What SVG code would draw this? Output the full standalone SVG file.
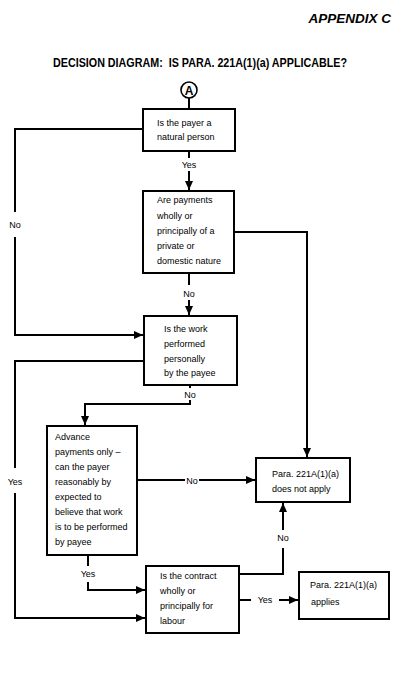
<svg xmlns="http://www.w3.org/2000/svg" width="400" height="700" viewBox="0 0 400 700">
<style>
.box{fill:#fff;stroke:#000;stroke-width:2}
.t{font-family:"Liberation Sans",Arial,sans-serif;font-size:9px;fill:#000}
.lbl{font-family:"Liberation Sans",Arial,sans-serif;font-size:9px;fill:#000;text-anchor:middle}
.c{fill:none;stroke:#000;stroke-width:2}
</style>
<defs>
<marker id="ah" markerUnits="userSpaceOnUse" markerWidth="10" markerHeight="10" refX="9" refY="4" orient="auto">
<path d="M0,0 L9,4 L0,8 Z" fill="#000"/>
</marker>
</defs>
<rect width="400" height="700" fill="#fff"/>
<text x="391" y="23" text-anchor="end" font-family="Liberation Sans,Arial,sans-serif" font-size="13.5" font-weight="bold" font-style="italic">APPENDIX C</text>
<text x="53" y="67" font-family="Liberation Sans,Arial,sans-serif" font-size="12.5" font-weight="bold" textLength="294" lengthAdjust="spacingAndGlyphs" xml:space="preserve">DECISION DIAGRAM:  IS PARA. 221A(1)(a) APPLICABLE?</text>
<g id="connectorA">
<circle cx="189" cy="90" r="8" fill="#fff" stroke="#000" stroke-width="1.6"/>
<text x="189" y="94.5" text-anchor="middle" font-family="Liberation Sans,Arial,sans-serif" font-size="12" font-weight="bold">A</text>
</g>
<g id="connectors">
<path class="c" d="M189,98 V109"/>
<path class="c" d="M189,151 V158"/>
<path class="c" d="M189,171 V190" marker-end="url(#ah)"/>
<text class="lbl" x="189" y="168">Yes</text>
<path class="c" d="M143,129 H15 V212"/>
<path class="c" d="M15,237 V335 H143" marker-end="url(#ah)"/>
<text class="lbl" x="15" y="228">No</text>
<path class="c" d="M234,232 H307 V457" marker-end="url(#ah)"/>
<path class="c" d="M189,273 V285"/>
<path class="c" d="M189,300 V315" marker-end="url(#ah)"/>
<text class="lbl" x="189" y="297">No</text>
<path class="c" d="M144,361 H15 V468"/>
<path class="c" d="M15,493 V618 H145" marker-end="url(#ah)"/>
<text class="lbl" x="15" y="485">Yes</text>
<path class="c" d="M190,385 V388"/>
<path class="c" d="M190,400 V404 H85 V425" marker-end="url(#ah)"/>
<text class="lbl" x="190" y="398">No</text>
<path class="c" d="M137,480 H185"/>
<path class="c" d="M199,480 H255" marker-end="url(#ah)"/>
<text class="lbl" x="192" y="484">No</text>
<path class="c" d="M88,555 V566"/>
<path class="c" d="M88,582 V590 H145" marker-end="url(#ah)"/>
<text class="lbl" x="88" y="577">Yes</text>
<path class="c" d="M239,574 H283 V548"/>
<path class="c" d="M283,530 V503" marker-end="url(#ah)"/>
<text class="lbl" x="283" y="541">No</text>
<path class="c" d="M239,600 H251"/>
<path class="c" d="M279,600 H298" marker-end="url(#ah)"/>
<text class="lbl" x="265" y="603">Yes</text>
</g>
<g id="node1">
<rect class="box" x="143" y="109" width="92" height="42"/>
<text class="t" x="157" y="126">Is the payer a</text>
<text class="t" x="157" y="140">natural person</text>
</g>
<g id="node2">
<rect class="box" x="143" y="191" width="91" height="82"/>
<text class="t" x="157" y="203">Are payments</text>
<text class="t" x="157" y="219">wholly or</text>
<text class="t" x="157" y="234">principally of a</text>
<text class="t" x="157" y="249">private or</text>
<text class="t" x="157" y="264">domestic nature</text>
</g>
<g id="node3">
<rect class="box" x="144" y="316" width="93" height="69"/>
<text class="t" x="164" y="332">Is the work</text>
<text class="t" x="164" y="347">performed</text>
<text class="t" x="164" y="362">personally</text>
<text class="t" x="164" y="376">by the payee</text>
</g>
<g id="node4">
<rect class="box" x="47" y="426" width="90" height="129"/>
<text class="t" x="55" y="440">Advance</text>
<text class="t" x="55" y="455">payments only –</text>
<text class="t" x="55" y="470">can the payer</text>
<text class="t" x="55" y="485">reasonably by</text>
<text class="t" x="55" y="500">expected to</text>
<text class="t" x="55" y="515">believe that work</text>
<text class="t" x="55" y="530">is to be performed</text>
<text class="t" x="55" y="545">by payee</text>
</g>
<g id="node5">
<rect class="box" x="146" y="566" width="93" height="67"/>
<text class="t" x="160" y="579">Is the contract</text>
<text class="t" x="160" y="594">wholly or</text>
<text class="t" x="160" y="609">principally for</text>
<text class="t" x="160" y="624">labour</text>
</g>
<g id="node6">
<rect class="box" x="256" y="458" width="94" height="44"/>
<text class="t" x="272" y="477">Para. 221A(1)(a)</text>
<text class="t" x="272" y="492">does not apply</text>
</g>
<g id="node7">
<rect class="box" x="299" y="572" width="90" height="47"/>
<text class="t" x="310" y="588">Para. 221A(1)(a)</text>
<text class="t" x="311" y="605">applies</text>
</g>
</svg>
